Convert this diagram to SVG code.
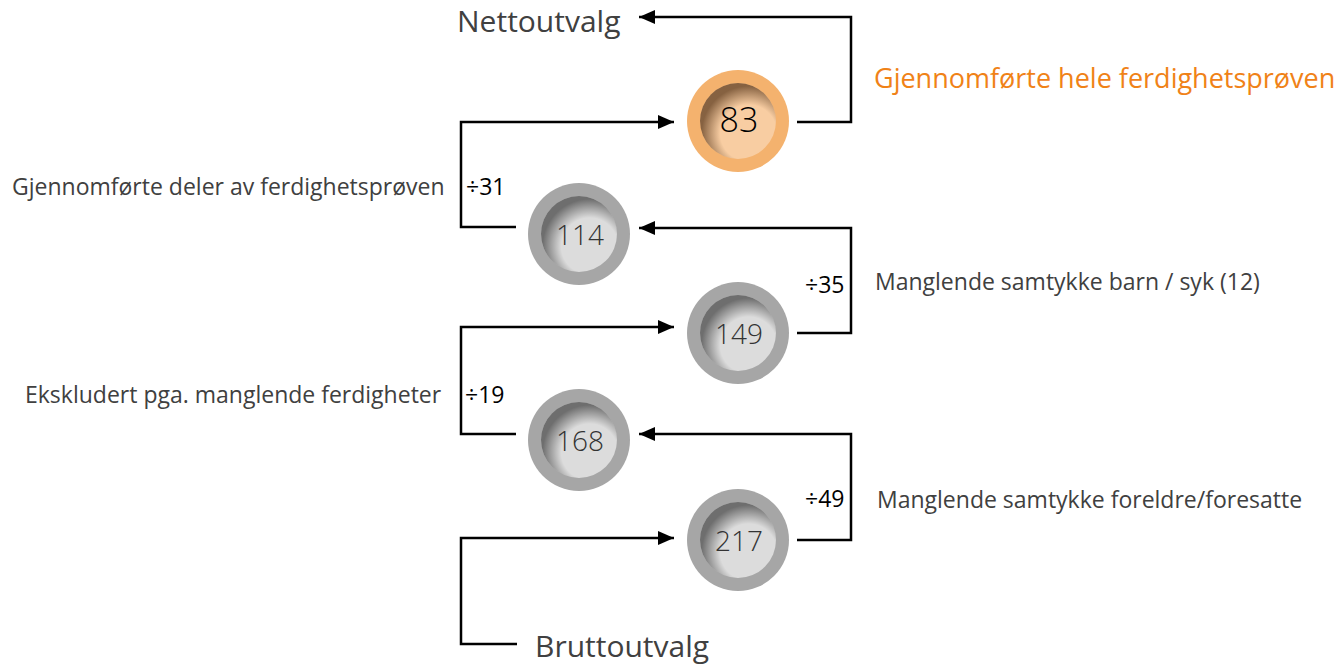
<svg xmlns="http://www.w3.org/2000/svg" width="1340" height="665" viewBox="0 0 1340 665">
<style>
.lbl{font-family:"Open Sans","Liberation Sans",sans-serif;fill:#404040;font-size:23px}
.big{font-family:"Open Sans","Liberation Sans",sans-serif;fill:#404040;font-size:30px}
.org{font-family:"Open Sans","Liberation Sans",sans-serif;fill:#F08217;font-size:27px}
.cnt{font-family:"Open Sans","Liberation Sans",sans-serif;fill:#000;font-size:23px}
.num{font-family:"Open Sans","Liberation Sans",sans-serif;fill:#333;font-size:28px;font-weight:300;text-anchor:middle}
.ring{fill:#A6A6A6}
.inner{fill:#DCDCDC}
.oring{fill:#F4B26E}
.oinner{fill:#F8CDA2}
.shade{fill:url(#sh)}
.oshade{fill:url(#osh)}
.con{fill:none;stroke:#000;stroke-width:2.5}
</style>
<defs>
<radialGradient id="sh" cx="0.64" cy="0.66" r="0.62">
<stop offset="0" stop-color="#000" stop-opacity="0"/>
<stop offset="0.6" stop-color="#000" stop-opacity="0"/>
<stop offset="1" stop-color="#000" stop-opacity="0.5"/>
</radialGradient>
<radialGradient id="osh" cx="0.64" cy="0.66" r="0.62">
<stop offset="0" stop-color="#3a1a00" stop-opacity="0"/>
<stop offset="0.6" stop-color="#3a1a00" stop-opacity="0"/>
<stop offset="1" stop-color="#3a1a00" stop-opacity="0.6"/>
</radialGradient>
<marker id="ah" viewBox="0 0 16 14" refX="16" refY="7" markerWidth="16" markerHeight="14" markerUnits="userSpaceOnUse" orient="auto">
<path d="M0,0 L16,7 L0,14 Z" fill="#000"/>
</marker>
</defs>
<g id="connectors">
<polyline class="con" points="797,122 851,122 851,17 639,17" marker-end="url(#ah)"/>
<polyline class="con" points="516,227 461,227 461,122 674,122" marker-end="url(#ah)"/>
<polyline class="con" points="797,333 851,333 851,228 639,228" marker-end="url(#ah)"/>
<polyline class="con" points="516,434 461,434 461,327 674,327" marker-end="url(#ah)"/>
<polyline class="con" points="797,540 851,540 851,434 639,434" marker-end="url(#ah)"/>
<polyline class="con" points="517,644 461,644 461,538 674,538" marker-end="url(#ah)"/>
<text class="cnt" x="466" y="195">÷31</text>
<text class="cnt" x="805" y="293">÷35</text>
<text class="cnt" x="465" y="403">÷19</text>
<text class="cnt" x="805" y="507">÷49</text>
</g>
<g id="n83">
<circle class="oring" cx="738" cy="121" r="51"/>
<circle class="oinner" cx="738" cy="121" r="38"/>
<circle class="oshade" cx="738" cy="121" r="38"/>
<text class="num" x="739" y="132" style="fill:#000;font-size:34px">83</text>
</g>
<g id="n114">
<circle class="ring" cx="579" cy="234" r="51"/>
<circle class="inner" cx="579" cy="234" r="38"/>
<circle class="shade" cx="579" cy="234" r="38"/>
<text class="num" x="580" y="245">114</text>
</g>
<g id="n149">
<circle class="ring" cx="738" cy="333" r="51"/>
<circle class="inner" cx="738" cy="333" r="38"/>
<circle class="shade" cx="738" cy="333" r="38"/>
<text class="num" x="739" y="344">149</text>
</g>
<g id="n168">
<circle class="ring" cx="579" cy="440" r="51"/>
<circle class="inner" cx="579" cy="440" r="38"/>
<circle class="shade" cx="579" cy="440" r="38"/>
<text class="num" x="580" y="451">168</text>
</g>
<g id="n217">
<circle class="ring" cx="738" cy="540" r="51"/>
<circle class="inner" cx="738" cy="540" r="38"/>
<circle class="shade" cx="738" cy="540" r="38"/>
<text class="num" x="739" y="551">217</text>
</g>
<g id="labels">
<text class="big" x="457" y="32">Nettoutvalg</text>
<text class="org" x="874" y="88">Gjennomførte hele ferdighetsprøven</text>
<text class="lbl" x="12" y="195">Gjennomførte deler av ferdighetsprøven</text>
<text class="lbl" x="875" y="290">Manglende samtykke barn / syk (12)</text>
<text class="lbl" x="25" y="403">Ekskludert pga. manglende ferdigheter</text>
<text class="lbl" x="877" y="508">Manglende samtykke foreldre/foresatte</text>
<text class="big" x="535" y="657">Bruttoutvalg</text>
</g>
</svg>
